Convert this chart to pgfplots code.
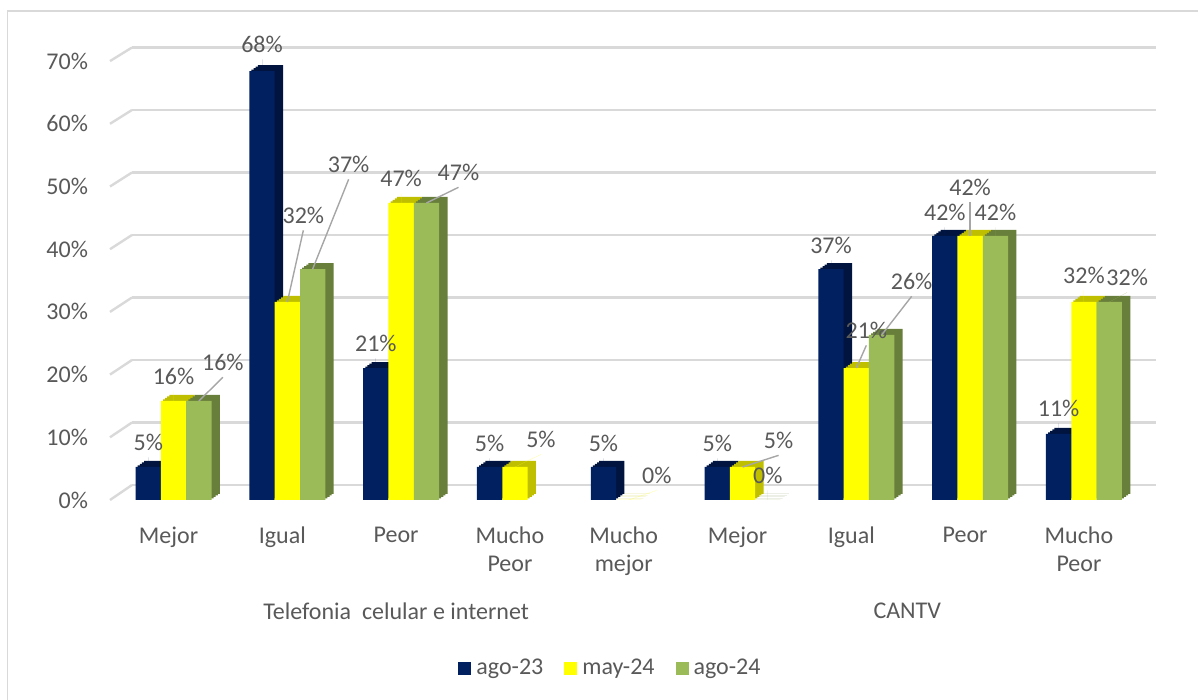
\documentclass[border=0pt]{standalone}
\usepackage{fontspec}
\setmainfont{Carlito}
\usepackage{pgfplots}
\pgfplotsset{compat=1.18}
\usepackage{pgfplotstable}
\definecolor{navy}{HTML}{002060}
\definecolor{navyD}{HTML}{00143F}
\definecolor{yel}{HTML}{FFFF00}
\definecolor{yelD}{HTML}{BFBF00}
\definecolor{grn}{HTML}{9BBB59}
\definecolor{grnD}{HTML}{687E3B}
\definecolor{txt}{HTML}{595959}
\definecolor{gridc}{HTML}{D9D9D9}
\makeatletter
\tikzset{nopre/.code={\def\tikz@preactions{}}}
\makeatother
\tikzset{extrude/.style={
  preaction={fill=#1, transform canvas={shift={(4.2pt,3pt)}}},
  preaction={fill=#1, transform canvas={shift={(3.15pt,2.25pt)}}},
  preaction={fill=#1, transform canvas={shift={(2.1pt,1.5pt)}}},
  preaction={fill=#1, transform canvas={shift={(1.05pt,0.75pt)}}}}}

% ago-23
\pgfplotstableread{
x y lx ly ll
0 5.263 0 12.5 0
1 68.42 0 13.5 0
2 21.05 0 12.5 0
3 5.263 0 12 0
4 5.263 0 12 0
5 5.263 0 12 0
6 36.84 0 12 0
7 42.11 0 12 0
8 10.53 0 13 0
}\agoA
% may-24
\pgfplotstableread{
x y lx ly ll
0 15.79 0 12.5 0
1 31.58 8 43.5 1
2 47.37 0 12.5 0
3 5.263 13 14 0
4 0 14 12.5 0
5 5.263 18 13.5 1
6 21.05 5 19 1
7 42.11 0 24.5 1
8 31.58 0 13.5 0
}\mayB
% ago-24
\pgfplotstableread{
x y lx ly ll
0 15.79 12 19.5 1
1 36.84 18 52.5 1
2 47.37 16 15.5 1
3 nan 0 0 0
4 nan 0 0 0
5 0 0 12.5 0
6 26.32 15 27 1
7 42.11 0 12 0
8 31.58 9 12.5 0
}\agoC

\begin{document}
\begin{tikzpicture}
\useasboundingbox (0,0) rectangle (599pt,350pt);
\draw[gridc, line width=0.8pt] (3.75pt,-1pt) -- (3.75pt,344.5pt) -- (600pt,344.5pt);
\foreach \k in {0,...,7}{
  \draw[gridc, line width=1.2pt] (55pt,{100pt+\k*31.35pt}) -- (66pt,{107.5pt+\k*31.25pt});
}
% back wall grid
\begin{axis}[at={(66pt,107.5pt)}, anchor=south west, scale only axis,
  width=512pt, height=218.75pt, xmin=0, xmax=1, ymin=0, ymax=70,
  ytick={0,10,...,70}, xtick=\empty, yticklabels={},
  ymajorgrids, major grid style={gridc, line width=1.2pt},
  axis line style={draw=none}, major tick length=0pt]
\addplot[draw=none] coordinates {(0,0)};
\end{axis}
% bars
\begin{axis}[at={(58.325pt,100pt)}, anchor=south west, scale only axis,
  width=512.1pt, height=219.45pt,
  xmin=-0.5, xmax=8.5, ymin=0, ymax=70,
  ybar=0pt, bar width=12.65pt,
  axis line style={draw=none}, major tick length=0pt,
  xtick={0,...,8},
  xticklabels={Mejor,Igual,Peor,{Mucho\\Peor},{Mucho\\mejor},Mejor,Igual,Peor,{Mucho\\Peor}},
  xticklabel style={align=center, anchor=north, yshift=-10pt, xshift=-2.5pt, font=\fontsize{12}{14}\selectfont, text=txt},
  ytick={0,10,...,70},
  /pgf/number format/assume math mode=true,
  yticklabel={\pgfmathprintnumber{\tick}\%},
  yticklabel style={font=\fontsize{12}{14}\selectfont, text=txt, xshift=-10.8pt},
  clip=false,
  point meta=y,
  nodes near coords={\pgfmathprintnumber[fixed,precision=0]{\pgfplotspointmeta}\%},
  nodes near coords align={center},
  visualization depends on={\thisrow{lx} \as \lx},
  visualization depends on={\thisrow{ly} \as \ly},
  visualization depends on={\thisrow{ll} \as \ll},
  every node near coord/.append style={font=\fontsize{12}{14}\selectfont, text=txt, fill=none, draw=none,
     anchor=center, xshift=\lx pt, yshift=\ly pt,
     append after command={(\tikzlastnode.south) edge[draw=black!35, line width=0.7pt, draw opacity=\ll] ([xshift=-\lx pt, yshift=-\ly pt]\tikzlastnode.center)}},
  legend columns=3,
  legend style={at={(0.4836,-0.3828)}, anchor=center, draw=none, fill=none,
     font=\fontsize{12}{14}\selectfont, text=txt,
     nodes={inner xsep=2.5pt},
     /tikz/every even column/.append style={column sep=8pt}},
]
\addplot[fill=navy, draw=none, extrude=navyD,
  legend image code/.code={\fill[nopre, navy] (0pt,-3.25pt) rectangle (6.5pt,3.25pt);}]
  table[x=x,y=y] {\agoA};
\addplot[fill=yel, draw=none, extrude=yelD,
  legend image code/.code={\fill[nopre, yel] (0pt,-3.25pt) rectangle (6.5pt,3.25pt);}]
  table[x=x,y=y] {\mayB};
\addplot[fill=grn, draw=none, extrude=grnD,
  legend image code/.code={\fill[nopre, grn] (0pt,-3.25pt) rectangle (6.5pt,3.25pt);}]
  table[x=x,y=y] {\agoC};
\legend{ago-23,may-24,ago-24}
\node[font=\fontsize{12}{14}\selectfont, text=txt, xshift=-2.5pt, yshift=-55.5pt] at (axis cs:2,0) {Telefonia\ \ celular e internet};
\node[font=\fontsize{12}{14}\selectfont, text=txt, xshift=-3pt, yshift=-55.5pt] at (axis cs:6.5,0) {CANTV};
\end{axis}
\end{tikzpicture}
\end{document}
